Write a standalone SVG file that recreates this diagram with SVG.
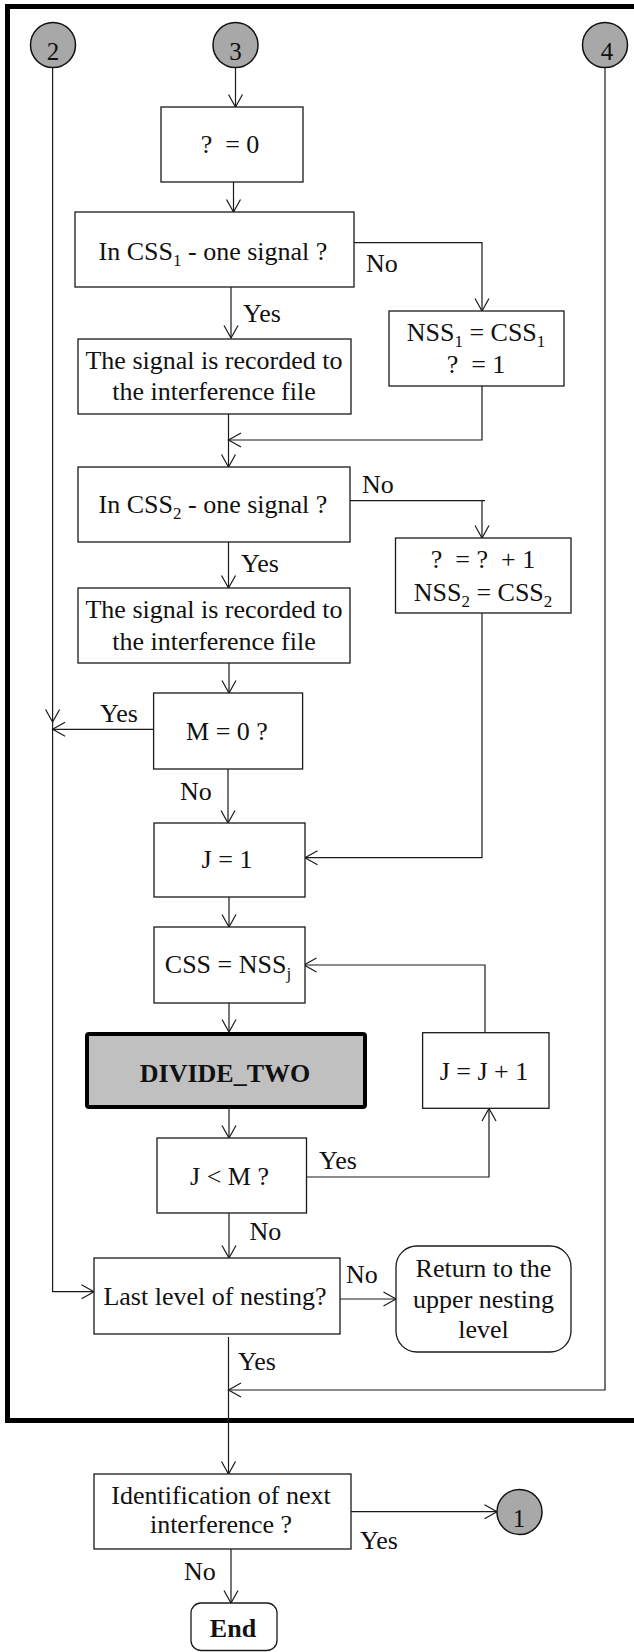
<svg xmlns="http://www.w3.org/2000/svg" width="634" height="1652" viewBox="0 0 634 1652">
<defs>
<style>
.b{fill:#fff;stroke:#1a1a1a;stroke-width:1.3}
.c{fill:#a8a8a8;stroke:#111;stroke-width:1.5}
.t{font-family:"Liberation Serif","Times New Roman",serif;font-size:26px;fill:#111}
.m{text-anchor:middle}
.bold{font-weight:bold}
.n{font-family:"Liberation Serif","Times New Roman",serif;font-size:25px;fill:#111;text-anchor:middle}
.s{font-size:17px}
.l{fill:none;stroke:#1a1a1a;stroke-width:1.2}
</style>
<marker id="a" markerUnits="userSpaceOnUse" markerWidth="16" markerHeight="18" refX="13.5" refY="8" orient="auto">
<path d="M1,1 L13.5,8 L1,15" fill="none" stroke="#1a1a1a" stroke-width="1.2"/>
</marker>
</defs>
<rect width="634" height="1652" fill="#fff"/>
<path id="frame" d="M634,6.5 H7.5 V1420.5 H634" fill="none" stroke="#000" stroke-width="5"/>

<g id="connectors" class="l">
<path d="M235.5,68 V107" marker-end="url(#a)"/>
<path d="M233.5,182 V212" marker-end="url(#a)"/>
<path d="M354,242.7 H482 V311" marker-end="url(#a)"/>
<path d="M231,287 V338" marker-end="url(#a)"/>
<path d="M482,386 V440 H228.5" marker-end="url(#a)"/>
<path d="M228.5,414 V467" marker-end="url(#a)"/>
<path d="M347,500.7 H485 M482,500.7 V538" marker-end="url(#a)"/>
<path d="M228.5,542 V588" marker-end="url(#a)"/>
<path d="M229,663 V693" marker-end="url(#a)"/>
<path d="M153.6,729.3 H52.6" marker-end="url(#a)"/>
<path d="M228,769 V823" marker-end="url(#a)"/>
<path d="M482,613 V857.7 H305" marker-end="url(#a)"/>
<path d="M229,897 V927" marker-end="url(#a)"/>
<path d="M229,1003 V1032" marker-end="url(#a)"/>
<path d="M485,1033 V965 H304" marker-end="url(#a)"/>
<path d="M229,1109 V1138" marker-end="url(#a)"/>
<path d="M306.5,1177 H489 V1108.5" marker-end="url(#a)"/>
<path d="M229,1213 V1258" marker-end="url(#a)"/>
<path d="M52.6,68 V722" marker-end="url(#a)"/>
<path d="M52.6,722 V1291.7 H94" marker-end="url(#a)"/>
<path d="M337,1299 H396" marker-end="url(#a)"/>
<path d="M228.5,1337 V1474" marker-end="url(#a)"/>
<path d="M605,68 V1390 H228.5" marker-end="url(#a)"/>
<path d="M351,1511.7 H497" marker-end="url(#a)"/>
<path d="M231,1549 V1603" marker-end="url(#a)"/>
</g>

<g id="labels" class="t">
<text x="366" y="272">No</text>
<text x="243" y="322">Yes</text>
<text x="362" y="493">No</text>
<text x="241" y="572">Yes</text>
<text x="100" y="722">Yes</text>
<text x="180" y="800">No</text>
<text x="319" y="1169">Yes</text>
<text x="249.5" y="1240">No</text>
<text x="346" y="1283">No</text>
<text x="238" y="1370">Yes</text>
<text x="360" y="1549">Yes</text>
<text x="184" y="1580">No</text>
</g>

<g id="c2"><circle class="c" cx="53" cy="45" r="22.5"/><text class="n" x="53" y="60">2</text></g>
<g id="c3"><circle class="c" cx="235.5" cy="45" r="22.5"/><text class="n" x="235.5" y="60">3</text></g>
<g id="c4"><circle class="c" cx="605" cy="45" r="22.5"/><text class="n" x="607" y="60">4</text></g>

<g id="init"><rect class="b" x="161" y="107" width="142" height="75"/><text class="t m" x="230" y="153">?&#160; = 0</text></g>

<g id="css1"><rect class="b" x="75" y="212" width="279" height="75"/><text class="t m" x="213" y="260">In CSS<tspan class="s" dy="6">1</tspan><tspan dy="-6"> - one signal ?</tspan></text></g>

<g id="rec1"><rect class="b" x="78" y="339" width="273" height="75"/><text class="t m" x="214" y="369">The signal is recorded to</text><text class="t m" x="214" y="400">the interference file</text></g>

<g id="nss1"><rect class="b" x="389" y="311" width="175" height="75"/><text class="t m" x="476" y="341">NSS<tspan class="s" dy="6">1</tspan><tspan dy="-6"> = CSS</tspan><tspan class="s" dy="6">1</tspan></text><text class="t m" x="476" y="373">?&#160; = 1</text></g>

<g id="css2"><rect class="b" x="78" y="467" width="272" height="75"/><text class="t m" x="213" y="513">In CSS<tspan class="s" dy="6">2</tspan><tspan dy="-6"> - one signal ?</tspan></text></g>

<g id="inc"><rect class="b" x="395.5" y="538" width="175.5" height="75"/><text class="t m" x="483" y="568">?&#160; = ?&#160; + 1</text><text class="t m" x="483" y="601">NSS<tspan class="s" dy="6">2</tspan><tspan dy="-6"> = CSS</tspan><tspan class="s" dy="6">2</tspan></text></g>

<g id="rec2"><rect class="b" x="78" y="588" width="272" height="75"/><text class="t m" x="214" y="618">The signal is recorded to</text><text class="t m" x="214" y="650">the interference file</text></g>

<g id="m0"><rect class="b" x="153.6" y="693" width="149" height="76"/><text class="t m" x="227" y="740">M = 0 ?</text></g>

<g id="j1"><rect class="b" x="154" y="823" width="151" height="74"/><text class="t m" x="227" y="868">J = 1</text></g>

<g id="cssj"><rect class="b" x="154" y="927" width="151" height="76"/><text class="t m" x="228" y="973">CSS = NSS<tspan class="s" dy="6">j</tspan></text></g>

<g id="divide"><rect x="87" y="1034" width="278" height="73" rx="2" fill="#c0c0c0" stroke="#000" stroke-width="4"/><text class="t m bold" x="225" y="1082">DIVIDE_TWO</text></g>

<g id="jinc"><rect class="b" x="422.6" y="1032.7" width="126.4" height="75.6"/><text class="t m" x="484" y="1080">J = J + 1</text></g>

<g id="jlm"><rect class="b" x="157" y="1138" width="149.5" height="75"/><text class="t m" x="229.5" y="1185">J &lt; M ?</text></g>

<g id="last"><rect class="b" x="94" y="1258" width="246" height="76"/><text class="t m" x="215" y="1305">Last level of nesting?</text></g>

<g id="ret"><rect class="b" x="396" y="1246" width="175" height="106" rx="21"/><text class="t m" x="483.5" y="1277">Return to the</text><text class="t m" x="483.5" y="1307.5">upper nesting</text><text class="t m" x="483.5" y="1338">level</text></g>

<g id="ident"><rect class="b" x="94" y="1474" width="257" height="75"/><text class="t m" x="221" y="1504">Identification of next</text><text class="t m" x="221" y="1533">interference ?</text></g>

<g id="c1"><circle class="c" cx="519.5" cy="1512" r="22.5"/><text class="n" x="519" y="1527">1</text></g>

<g id="end"><rect class="b" x="191" y="1603" width="86" height="47.5" rx="10"/><text class="t m bold" x="233" y="1637">End</text></g>
</svg>
